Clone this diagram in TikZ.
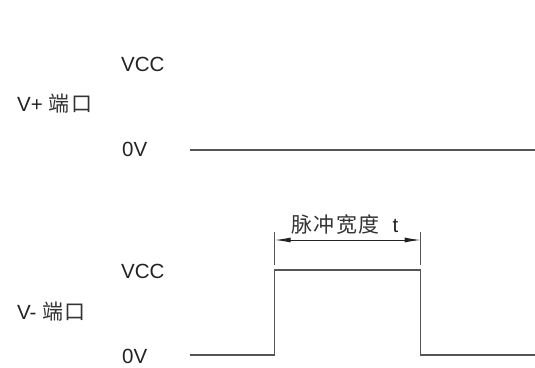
\documentclass[tikz,border=0pt]{standalone}
\usepackage{fontspec}
\setmainfont{Liberation Sans}
\newfontfamily\cjk[LetterSpace=7]{Noto Sans CJK SC}
\usetikzlibrary{arrows.meta}
\definecolor{linegray}{HTML}{555555}
\definecolor{textgray}{HTML}{222222}
\definecolor{cjkgray}{HTML}{333333}
\newcommand{\cjktext}[1]{{\fontsize{21}{21}\cjk\color{cjkgray}#1}}
\tikzset{
  lbl/.style={anchor=west, inner sep=0pt, text=textgray, font=\fontsize{20.5}{20.5}\selectfont},
  wave/.style={draw=linegray, line width=1.2pt},
  extline/.style={draw=linegray, line width=1.2pt},
  dimline/.style={draw=textgray, line width=1pt, {Latex[length=16pt,width=5pt]}-{Latex[length=16pt,width=5pt]}},
}
\begin{document}
\begin{tikzpicture}[x=1pt,y=-1pt]
\useasboundingbox (0,0) rectangle (535,367);
% top port
\node[lbl] (vcc1) at (121,64) {VCC};
\node[lbl] (vp) at (17,104) {V+ \cjktext{端口}};
\node[lbl] (zero1) at (122,149) {0V};
\coordinate (a1) at (190,150);
\coordinate (a2) at (535,150);
\draw[wave] (a1) -- (a2);
% bottom port
\node[lbl] (vcc2) at (121,271) {VCC};
\node[lbl] (vm) at (17,312) {V- \cjktext{端口}};
\node[lbl] (zero2) at (122,356) {0V};
\coordinate (b0) at (190,355);
\coordinate (b1) at (274.7,355);
\coordinate (b2) at (274.7,270);
\coordinate (b3) at (420.7,270);
\coordinate (b4) at (420.7,355);
\coordinate (b5) at (535,355);
\draw[wave] (b0) -- (b1) -- (b2) -- (b3) -- (b4) -- (b5);
% dimension
\coordinate (e1t) at (274.7,232);
\coordinate (e1b) at (274.7,265);
\coordinate (e2t) at (420.7,232);
\coordinate (e2b) at (420.7,265);
\draw[extline] (e1t) -- (e1b);
\draw[extline] (e2t) -- (e2b);
\coordinate (d1) at (274.7,240);
\coordinate (d2) at (420.7,240);
\draw[dimline] (d1) -- (d2);
\node[inner sep=0pt, anchor=west, text=textgray, font=\fontsize{20.5}{20.5}\selectfont] (pw) at (291,225) {\cjktext{脉冲宽度}\hspace{13pt}t};
\end{tikzpicture}
\end{document}
